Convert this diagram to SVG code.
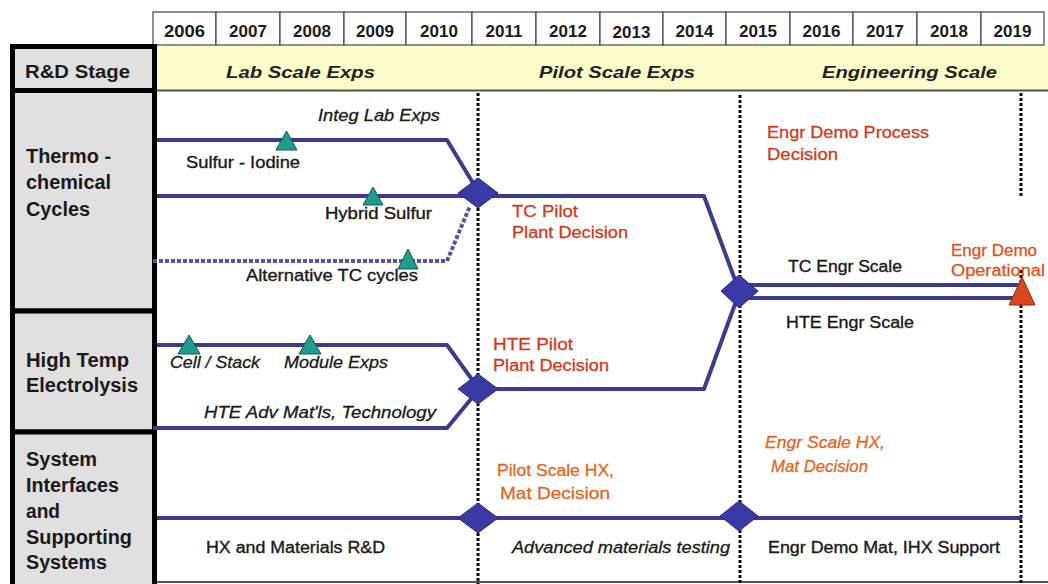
<svg xmlns="http://www.w3.org/2000/svg" width="1048" height="584" viewBox="0 0 1048 584">
<style>
text{font-family:"Liberation Sans",Arial,sans-serif;fill:#1a1a1a}
.yr{font-size:17px;font-weight:bold;text-anchor:middle}
.hd{font-size:19.5px;font-weight:bold}
.st{font-size:17px;font-weight:bold;font-style:italic;fill:#222}
.lb{font-size:16px;stroke:#1a1a1a;stroke-width:0.35}
.it{font-size:16px;font-style:italic;stroke:#1a1a1a;stroke-width:0.3}
.rd{font-size:16px;fill:#d23a1c;stroke:#d23a1c;stroke-width:0.3}
.or{font-size:16px;fill:#e2691c;stroke:#e2691c;stroke-width:0.3}
.box{fill:#e0e0e0;stroke:#000;stroke-width:5}
.cell{fill:#fff;stroke:#444;stroke-width:1.2}
.ln{fill:none;stroke:#3c3c8e;stroke-width:4;stroke-linejoin:round}
.dl{fill:none;stroke:#000;stroke-width:3;stroke-dasharray:3 2}
.dm{fill:#3a3aa6;stroke:#2a2a80;stroke-width:1}
.tri{fill:#1f9c8c;stroke:#0d5e55;stroke-width:1}
</style>
<rect width="1048" height="584" fill="#fff"/>
<g id="years">
<rect class="cell" x="153" y="12" width="63" height="33"/><text class="yr" x="184.5" y="37" textLength="41" lengthAdjust="spacingAndGlyphs">2006</text>
<rect class="cell" x="216" y="12" width="64" height="33"/><text class="yr" x="248" y="37">2007</text>
<rect class="cell" x="280" y="12" width="64" height="33"/><text class="yr" x="312" y="37">2008</text>
<rect class="cell" x="344" y="12" width="62" height="33"/><text class="yr" x="375" y="37">2009</text>
<rect class="cell" x="406" y="12" width="66" height="33"/><text class="yr" x="439" y="37">2010</text>
<rect class="cell" x="472" y="12" width="64" height="33"/><text class="yr" x="504" y="37">2011</text>
<rect class="cell" x="536" y="12" width="64" height="33"/><text class="yr" x="568" y="37">2012</text>
<rect class="cell" x="600" y="12" width="63" height="33"/><text class="yr" x="631.5" y="38">2013</text>
<rect class="cell" x="663" y="12" width="63" height="33"/><text class="yr" x="694.5" y="37">2014</text>
<rect class="cell" x="726" y="12" width="64" height="33"/><text class="yr" x="758" y="37">2015</text>
<rect class="cell" x="790" y="12" width="63" height="33"/><text class="yr" x="821.5" y="37">2016</text>
<rect class="cell" x="853" y="12" width="64" height="33"/><text class="yr" x="885" y="37">2017</text>
<rect class="cell" x="917" y="12" width="64" height="33"/><text class="yr" x="949" y="37">2018</text>
<rect class="cell" x="981" y="12" width="63" height="33"/><text class="yr" x="1012.5" y="37">2019</text>
</g>
<g id="stage-band">
<rect x="157" y="46" width="891" height="44" fill="#fdfccb"/>
<line x1="157" y1="90.5" x2="1048" y2="90.5" stroke="#555" stroke-width="2"/>
<text class="st" x="226" y="78" textLength="149" lengthAdjust="spacingAndGlyphs">Lab Scale Exps</text>
<text class="st" x="539" y="78" textLength="156" lengthAdjust="spacingAndGlyphs">Pilot Scale Exps</text>
<text class="st" x="822" y="78" textLength="175" lengthAdjust="spacingAndGlyphs">Engineering Scale</text>
</g>
<line x1="157" y1="582" x2="1048" y2="582" stroke="#555" stroke-width="2"/>
<g id="label-rd">
<rect class="box" x="12.5" y="46.5" width="142" height="44"/>
<text class="hd" x="25" y="78" textLength="105" lengthAdjust="spacingAndGlyphs" style="font-size:18px">R&amp;D Stage</text>
</g>
<g id="label-thermo">
<rect class="box" x="12.5" y="90.5" width="142" height="220.5"/>
<text class="hd" x="26" y="163" textLength="85" lengthAdjust="spacingAndGlyphs">Thermo -</text>
<text class="hd" x="26" y="189" textLength="85" lengthAdjust="spacingAndGlyphs">chemical</text>
<text class="hd" x="26" y="216" textLength="64" lengthAdjust="spacingAndGlyphs">Cycles</text>
</g>
<g id="label-hte">
<rect class="box" x="12.5" y="311" width="142" height="121"/>
<text class="hd" x="26" y="367" textLength="103" lengthAdjust="spacingAndGlyphs">High Temp</text>
<text class="hd" x="26" y="392" textLength="112" lengthAdjust="spacingAndGlyphs">Electrolysis</text>
</g>
<g id="label-sys">
<rect class="box" x="12.5" y="432" width="142" height="160"/>
<text class="hd" x="26" y="466" textLength="71" lengthAdjust="spacingAndGlyphs">System</text>
<text class="hd" x="26" y="492" textLength="93" lengthAdjust="spacingAndGlyphs">Interfaces</text>
<text class="hd" x="26" y="518" textLength="34" lengthAdjust="spacingAndGlyphs">and</text>
<text class="hd" x="26" y="544" textLength="106" lengthAdjust="spacingAndGlyphs">Supporting</text>
<text class="hd" x="26" y="569" textLength="81" lengthAdjust="spacingAndGlyphs">Systems</text>
</g>
<g id="milestone-lines">
<line class="dl" x1="478" y1="93" x2="478" y2="584"/>
<line class="dl" x1="740" y1="95" x2="740" y2="584"/>
<line class="dl" x1="1021" y1="93" x2="1021" y2="198"/>
<line class="dl" x1="1021" y1="270" x2="1021" y2="584"/>
</g>
<g id="connectors">
<path class="ln" d="M157,140 H447 L476,188"/>
<path class="ln" d="M157,196 H478"/>
<path class="ln" d="M153,261 H447 L470,206" stroke-dasharray="4 2" style="stroke:#5656a2"/>
<path class="ln" d="M478,196 H704 L738,288"/>
<path class="ln" d="M740,285 H1021"/>
<path class="ln" d="M740,298 H1021"/>
<path class="ln" d="M157,345 H447 L476,385"/>
<path class="ln" d="M153,428 H447 L476,393"/>
<path class="ln" d="M478,389 H704 L738,296"/>
<path class="ln" d="M157,518 H1022"/>
</g>
<g id="decisions">
<polygon class="dm" points="458,193 478,178 498,193 478,208"/>
<polygon class="dm" points="721,291 739,275 758,291 739,308"/>
<polygon class="dm" points="458,389 478,374 498,389 478,404"/>
<polygon class="dm" points="458,518 478,503 498,518 478,533"/>
<polygon class="dm" points="720,516 739,501 758,516 739,531"/>
</g>
<g id="milestones">
<polygon class="tri" points="276,150 286.5,131 297,150"/>
<polygon class="tri" points="363,205 373,187 383,205"/>
<polygon class="tri" points="398,269 408,249 418,269"/>
<polygon class="tri" points="178,354 189,335 200,354"/>
<polygon class="tri" points="299,354 310,335 321,354"/>
<polygon points="1009,305 1022,277 1035,305" fill="#d8481c" stroke="#8a2a10" stroke-width="1"/>
</g>
<g id="labels">
<text class="it" x="318" y="121" textLength="122" lengthAdjust="spacingAndGlyphs">Integ Lab Exps</text>
<text class="lb" x="186" y="168" textLength="114" lengthAdjust="spacingAndGlyphs">Sulfur - Iodine</text>
<text class="lb" x="325" y="219" textLength="107" lengthAdjust="spacingAndGlyphs">Hybrid Sulfur</text>
<text class="lb" x="246" y="281" textLength="172" lengthAdjust="spacingAndGlyphs">Alternative TC cycles</text>
<text class="rd" x="512" y="217" textLength="66" lengthAdjust="spacingAndGlyphs">TC Pilot</text>
<text class="rd" x="512" y="238" textLength="116" lengthAdjust="spacingAndGlyphs">Plant Decision</text>
<text class="rd" x="767" y="138" textLength="162" lengthAdjust="spacingAndGlyphs">Engr Demo Process</text>
<text class="rd" x="767" y="160" textLength="71" lengthAdjust="spacingAndGlyphs">Decision</text>
<text class="rd" x="951" y="256" textLength="86" lengthAdjust="spacingAndGlyphs" style="fill:#e05420;stroke:#e05420">Engr Demo</text>
<text class="rd" x="951" y="276" textLength="94" lengthAdjust="spacingAndGlyphs" style="fill:#e05420;stroke:#e05420">Operational</text>
<text class="lb" x="788" y="272" textLength="114" lengthAdjust="spacingAndGlyphs">TC Engr Scale</text>
<text class="lb" x="786" y="328" textLength="128" lengthAdjust="spacingAndGlyphs">HTE Engr Scale</text>
<text class="rd" x="493" y="350" textLength="80" lengthAdjust="spacingAndGlyphs">HTE  Pilot</text>
<text class="rd" x="493" y="371" textLength="116" lengthAdjust="spacingAndGlyphs">Plant Decision</text>
<text class="it" x="170" y="368" textLength="90" lengthAdjust="spacingAndGlyphs">Cell / Stack</text>
<text class="it" x="284" y="368" textLength="104" lengthAdjust="spacingAndGlyphs">Module Exps</text>
<text class="it" x="204" y="418" textLength="232" lengthAdjust="spacingAndGlyphs">HTE Adv  Mat'ls, Technology</text>
<text class="or" x="497" y="476" textLength="117" lengthAdjust="spacingAndGlyphs">Pilot Scale HX,</text>
<text class="or" x="500" y="499" textLength="110" lengthAdjust="spacingAndGlyphs">Mat  Decision</text>
<text class="or" x="765" y="448" textLength="120" lengthAdjust="spacingAndGlyphs" font-style="italic">Engr Scale HX,</text>
<text class="or" x="771" y="472" textLength="97" lengthAdjust="spacingAndGlyphs" font-style="italic">Mat  Decision</text>
<text class="lb" x="206" y="553" textLength="179" lengthAdjust="spacingAndGlyphs">HX and Materials R&amp;D</text>
<text class="it" x="512" y="553" textLength="218" lengthAdjust="spacingAndGlyphs">Advanced materials testing</text>
<text class="lb" x="768" y="553" textLength="232" lengthAdjust="spacingAndGlyphs">Engr Demo Mat, IHX Support</text>
</g>
</svg>
